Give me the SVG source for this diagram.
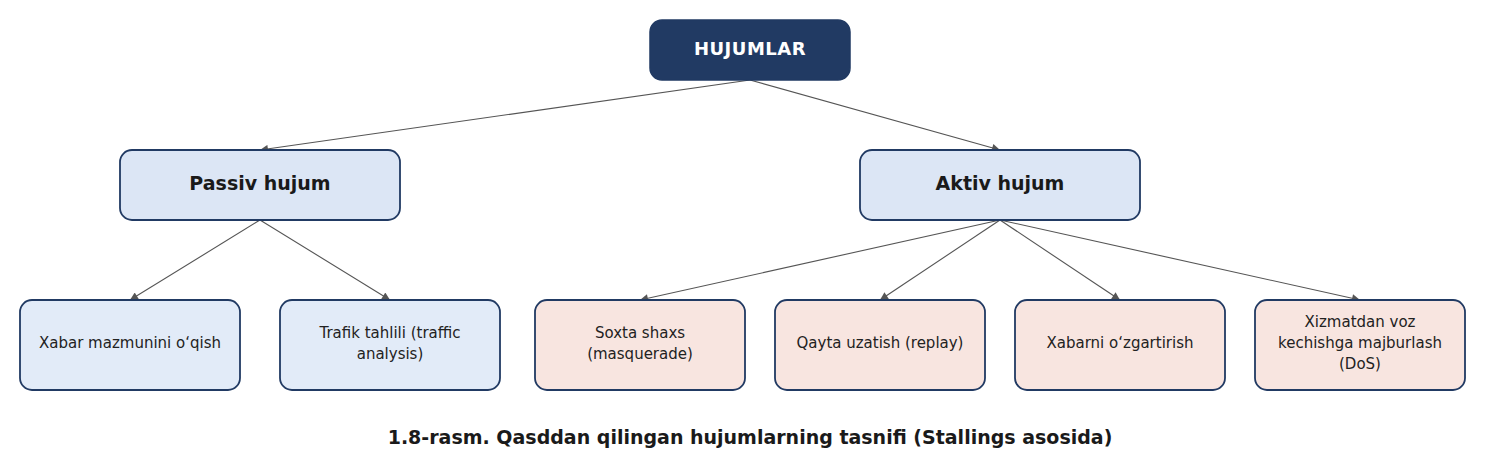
<svg xmlns="http://www.w3.org/2000/svg" width="1500" height="460" viewBox="0 0 1500 460">
  <defs>
    <marker id="arr" viewBox="0 0 10 10" refX="10" refY="5" markerWidth="10" markerHeight="8" markerUnits="userSpaceOnUse" orient="auto">
      <path d="M0,0 L10,5 L0,10 z" fill="#555555"/>
    </marker>
    <style>
      .root { fill: #213a63; stroke: #213a63; stroke-width: 1.5; }
      .mid { fill: #dce6f5; stroke: #213a63; stroke-width: 1.8; }
      .leafP { fill: #e2ebf8; stroke: #213a63; stroke-width: 1.8; }
      .leafA { fill: #f8e5e0; stroke: #213a63; stroke-width: 1.8; }
      .conn { stroke: #555555; stroke-width: 1.1; fill: none; marker-end: url(#arr); }
      .t-root { font-family: "DejaVu Sans", sans-serif; font-weight: bold; font-size: 18px; fill: #ffffff; text-anchor: middle; letter-spacing: 0.5px; }
      .t-mid { font-family: "DejaVu Sans", sans-serif; font-weight: bold; font-size: 19px; fill: #1a1a1a; text-anchor: middle; }
      .t-leaf { font-family: "DejaVu Sans", sans-serif; font-size: 15px; fill: #222222; text-anchor: middle; }
      .t-cap { font-family: "DejaVu Sans", sans-serif; font-weight: bold; font-size: 19px; fill: #1a1a1a; text-anchor: middle; }
    </style>
  </defs>

  <g id="connectors">
    <line class="conn" x1="750" y1="80" x2="260" y2="150"/>
    <line class="conn" x1="750" y1="80" x2="1000" y2="150"/>
    <line class="conn" x1="260" y1="220" x2="130" y2="300"/>
    <line class="conn" x1="260" y1="220" x2="390" y2="300"/>
    <line class="conn" x1="1000" y1="220" x2="640" y2="300"/>
    <line class="conn" x1="1000" y1="220" x2="880" y2="300"/>
    <line class="conn" x1="1000" y1="220" x2="1120" y2="300"/>
    <line class="conn" x1="1000" y1="220" x2="1360" y2="300"/>
  </g>

  <g id="hujumlar">
    <rect class="root" x="650" y="20" width="200" height="60" rx="12"/>
    <text class="t-root" x="750" y="55">HUJUMLAR</text>
  </g>

  <g id="passiv">
    <rect class="mid" x="120" y="150" width="280" height="70" rx="12"/>
    <text class="t-mid" x="260" y="190">Passiv hujum</text>
  </g>

  <g id="aktiv">
    <rect class="mid" x="860" y="150" width="280" height="70" rx="12"/>
    <text class="t-mid" x="1000" y="190">Aktiv hujum</text>
  </g>

  <g id="xabar-oqish">
    <rect class="leafP" x="20" y="300" width="220" height="90" rx="12"/>
    <text class="t-leaf" x="130" y="348">Xabar mazmunini o‘qish</text>
  </g>

  <g id="trafik">
    <rect class="leafP" x="280" y="300" width="220" height="90" rx="12"/>
    <text class="t-leaf" x="390" y="338">Trafik tahlili (traffic</text>
    <text class="t-leaf" x="390" y="359">analysis)</text>
  </g>

  <g id="soxta">
    <rect class="leafA" x="535" y="300" width="210" height="90" rx="12"/>
    <text class="t-leaf" x="640" y="338">Soxta shaxs</text>
    <text class="t-leaf" x="640" y="359">(masquerade)</text>
  </g>

  <g id="qayta">
    <rect class="leafA" x="775" y="300" width="210" height="90" rx="12"/>
    <text class="t-leaf" x="880" y="348">Qayta uzatish (replay)</text>
  </g>

  <g id="xabarni-ozgartirish">
    <rect class="leafA" x="1015" y="300" width="210" height="90" rx="12"/>
    <text class="t-leaf" x="1120" y="348">Xabarni o‘zgartirish</text>
  </g>

  <g id="dos">
    <rect class="leafA" x="1255" y="300" width="210" height="90" rx="12"/>
    <text class="t-leaf" x="1360" y="327">Xizmatdan voz</text>
    <text class="t-leaf" x="1360" y="348">kechishga majburlash</text>
    <text class="t-leaf" x="1360" y="369">(DoS)</text>
  </g>

  <text class="t-cap" x="750" y="444">1.8-rasm. Qasddan qilingan hujumlarning tasnifi (Stallings asosida)</text>
</svg>
